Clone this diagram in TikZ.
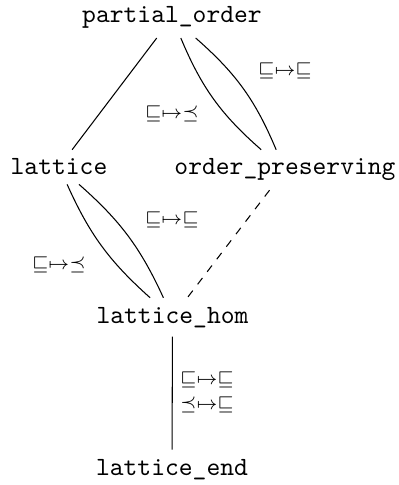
\documentclass[tikz,border=0pt]{standalone}
\usepackage{amssymb}
\begin{document}
\begin{tikzpicture}[x=0.38pt,y=-0.38pt,
  obj/.style={font=\ttfamily, anchor=base, inner sep=3.3pt},
  lab/.style={font=\scriptsize, inner sep=0pt},
  arr/.style={draw, line width=0.4pt}]
\useasboundingbox (0,0) rectangle (398,485);
\node[obj] (po) at (172,23) {partial\_order};
\node[obj] (la) at (59,175) {lattice};
\node[obj] (op) at (285,175) {order\_preserving};
\node[obj] (lh) at (172.5,323) {lattice\_hom};
\node[obj] (le) at (172,475) {lattice\_end};

\draw[arr] (po) -- (la);
\draw[arr] (po) to[bend right=13] (op);
\draw[arr] (po) to[bend left=13] (op);
\draw[arr] (la) to[bend right=12] (lh);
\draw[arr] (la) to[bend left=12] (lh);
\draw[arr, dashed] (op) -- (lh);
\draw[arr] (lh) -- (le);

\node[lab] (l1) at (172,114) {$\sqsubseteq\mapsto\preceq$};
\node[lab] (l2) at (285,71) {$\sqsubseteq\mapsto\sqsubseteq$};
\node[lab] (l3) at (172,220) {$\sqsubseteq\mapsto\sqsubseteq$};
\node[lab] (l4) at (59,265) {$\sqsubseteq\mapsto\preceq$};
\node[lab] (l5) at (207,380) {$\sqsubseteq\mapsto\sqsubseteq$};
\node[lab] (l6) at (207,405) {$\preceq\mapsto\sqsubseteq$};
\end{tikzpicture}
\end{document}
